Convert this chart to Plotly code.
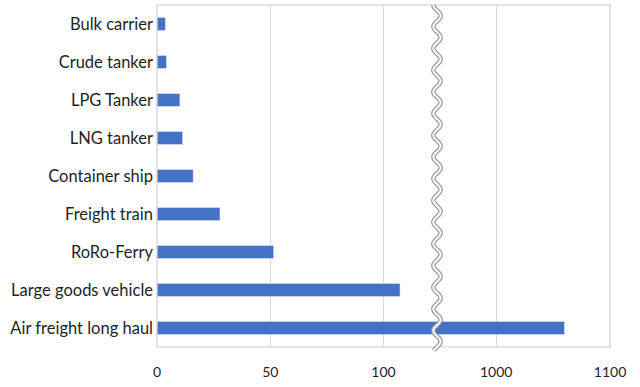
import numpy as np
import plotly.graph_objects as go

categories = ["Air freight long haul", "Large goods vehicle", "RoRo-Ferry", "Freight train",
              "Container ship", "LNG tanker", "LPG Tanker", "Crude tanker", "Bulk carrier"]
values = [1060, 107.3, 51.5, 27.8, 16, 11.3, 10.1, 4.2, 3.7]
left_ticks = [0, 50, 100]
right_ticks = [1000, 1100]

BLUE = "#4472C4"
GRID = "#d9d9d9"
FONT = "Lato"

split = 0.618
fig = go.Figure()
fig.add_trace(go.Bar(y=categories, x=values, orientation="h", marker_color=BLUE,
                     xaxis="x", yaxis="y", showlegend=False))
fig.add_trace(go.Bar(y=categories, x=values, orientation="h", marker_color=BLUE,
                     xaxis="x2", yaxis="y", showlegend=False))

# wavy break marker (paper coords)
ys = np.linspace(-0.01, 1.0, 400)
amp = 0.008
period = 0.0635
xs = split + amp * np.sin(2 * np.pi * ys / period)
path = "M " + " L ".join(f"{x:.5f},{y:.5f}" for x, y in zip(xs, ys))

fig.update_layout(
    width=640, height=387,
    margin=dict(l=157, r=30, t=5, b=40),
    paper_bgcolor="white", plot_bgcolor="white",
    bargap=0.66,
    font=dict(family=FONT, size=16.5, color="#1f1f1f"),
    xaxis=dict(domain=[0, split], range=[0, 123.6], tickvals=left_ticks,
               showgrid=True, gridcolor=GRID, gridwidth=1, zeroline=False,
               ticks="", ticklabelstandoff=15, tickfont=dict(size=14, color="#1f1f1f"),
               anchor="y"),
    xaxis2=dict(domain=[split, 1], range=[948, 1100], tickvals=right_ticks,
                showgrid=True, gridcolor=GRID, gridwidth=1, zeroline=False,
                ticks="", ticklabelstandoff=15, tickfont=dict(size=14, color="#1f1f1f"),
                anchor="y"),
    yaxis=dict(showgrid=False, ticks="", ticklabelstandoff=3,
               tickfont=dict(size=16.5, color="#1f1f1f"), anchor="x"),
    shapes=[
        dict(type="rect", xref="paper", yref="paper", x0=0, x1=1, y0=0, y1=1,
             line=dict(color="#cfcfcf", width=1.2), layer="above"),
        dict(type="path", xref="paper", yref="paper", path=path,
             line=dict(color="#9a9a9a", width=4.5), layer="above"),
        dict(type="path", xref="paper", yref="paper", path=path,
             line=dict(color="white", width=2), layer="above"),
    ],
)

fig.write_html("out.html")
